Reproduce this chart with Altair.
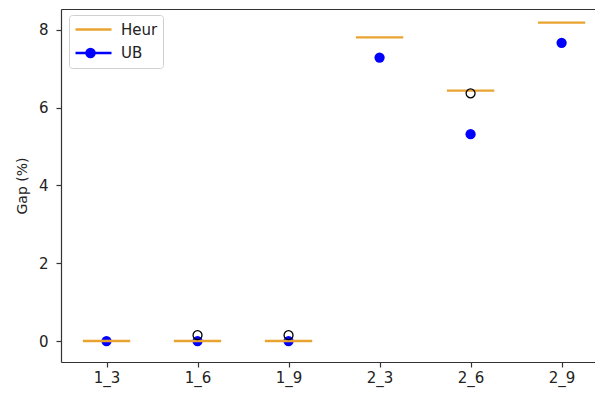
import altair as alt
import pandas as pd

categories = ["1_3", "1_6", "1_9", "2_3", "2_6", "2_9"]
heur = [0.0, 0.0, 0.0, 7.81, 6.44, 8.19]
ub = [0.0, 0.0, 0.0, 7.29, 5.32, 7.67]
flier_cat = ["1_6", "1_9", "2_6"]
flier_val = [0.15, 0.15, 6.37]
series_names = ["Heur", "UB"]

ORANGE = "#e9a331"
BLUE = "#0000ff"
DARK = "#333333"
FONT = "DejaVu Sans"

pos = {c: i + 1 for i, c in enumerate(categories)}
heur_df = pd.DataFrame({"cat": categories, "pos": [pos[c] for c in categories],
                        "gap": heur, "series": series_names[0]})
ub_df = pd.DataFrame({"cat": categories, "pos": [pos[c] for c in categories],
                      "gap": ub, "series": series_names[1]})
flier_df = pd.DataFrame({"cat": flier_cat, "pos": [pos[c] for c in flier_cat],
                         "gap": flier_val})

xscale = alt.Scale(domain=[0.5, 6.367], nice=False, zero=False)
yscale = alt.Scale(domain=[-0.54, 8.54], nice=False, zero=False)

label_expr = "[" + ",".join(f"'{c}'" for c in categories) + "][round(datum.value)-1]"

x_bottom = alt.Axis(orient="bottom", values=list(range(1, len(categories) + 1)),
                    labelExpr=label_expr, title=None, grid=False, tickSize=5,
                    labelPadding=3)
x_top = alt.Axis(orient="top", labels=False, ticks=False, grid=False, title=None)
y_axis = alt.Axis(values=[0, 2, 4, 6, 8], title="Gap (%)", grid=False, tickSize=5,
                  labelPadding=8, titlePadding=9, format="d")

ub_layer = alt.Chart(ub_df).mark_circle(size=105, opacity=1).encode(
    x=alt.X("pos:Q", scale=xscale, axis=x_top),
    y=alt.Y("gap:Q", scale=yscale, axis=y_axis),
    fill=alt.Fill("series:N", scale=alt.Scale(domain=[series_names[1]], range=[BLUE]),
                  legend=alt.Legend(title=None, orient="none", legendX=24, legendY=38,
                                    padding=0, symbolType="circle", symbolSize=110,
                                    symbolStrokeWidth=0, clipHeight=12,
                                    labelExpr="''", zindex=2)),
)

heur_layer = alt.Chart(heur_df).transform_calculate(
    x0="datum.pos - 0.26", x1="datum.pos + 0.26"
).mark_rule(strokeWidth=2.4).encode(
    x=alt.X("x0:Q", scale=xscale, axis=x_bottom),
    x2="x1:Q",
    y=alt.Y("gap:Q", scale=yscale, axis=y_axis),
    stroke=alt.Stroke("series:N",
                      scale=alt.Scale(domain=series_names, range=[ORANGE, BLUE]),
                      legend=alt.Legend(title=None, orient="none", legendX=8, legendY=6,
                                        padding=5, fillColor="white",
                                        strokeColor="#d0d0d0", cornerRadius=3,
                                        symbolType="stroke", symbolSize=1296,
                                        symbolStrokeWidth=2.5, clipHeight=19,
                                        rowPadding=4.5, labelOffset=8,
                                        labelFont=FONT, labelFontSize=15,
                                        labelColor="#222222", zindex=1)),
)

flier_layer = alt.Chart(flier_df).mark_point(
    shape="circle", filled=False, size=80, color="black", strokeWidth=1.3, opacity=1
).encode(
    x=alt.X("pos:Q", scale=xscale, axis=None),
    y=alt.Y("gap:Q", scale=yscale, axis=y_axis),
)

chart = alt.layer(ub_layer, heur_layer, flier_layer).resolve_axis(
    x="independent"
).properties(
    width=534, height=353,
    padding={"left": 61, "top": 9, "right": 0, "bottom": 35},
    autosize=alt.AutoSizeParams(type="none"),
).configure_view(stroke=None).configure_axis(
    labelFont=FONT, labelFontSize=15, labelColor="#222222",
    titleFont=FONT, titleFontSize=14, titleFontWeight="normal", titleColor="#222222",
    domainColor=DARK, tickColor=DARK, domainWidth=1.2, tickWidth=1.2,
)

chart.save("out.html", embed_options={"renderer": "svg", "actions": False})
